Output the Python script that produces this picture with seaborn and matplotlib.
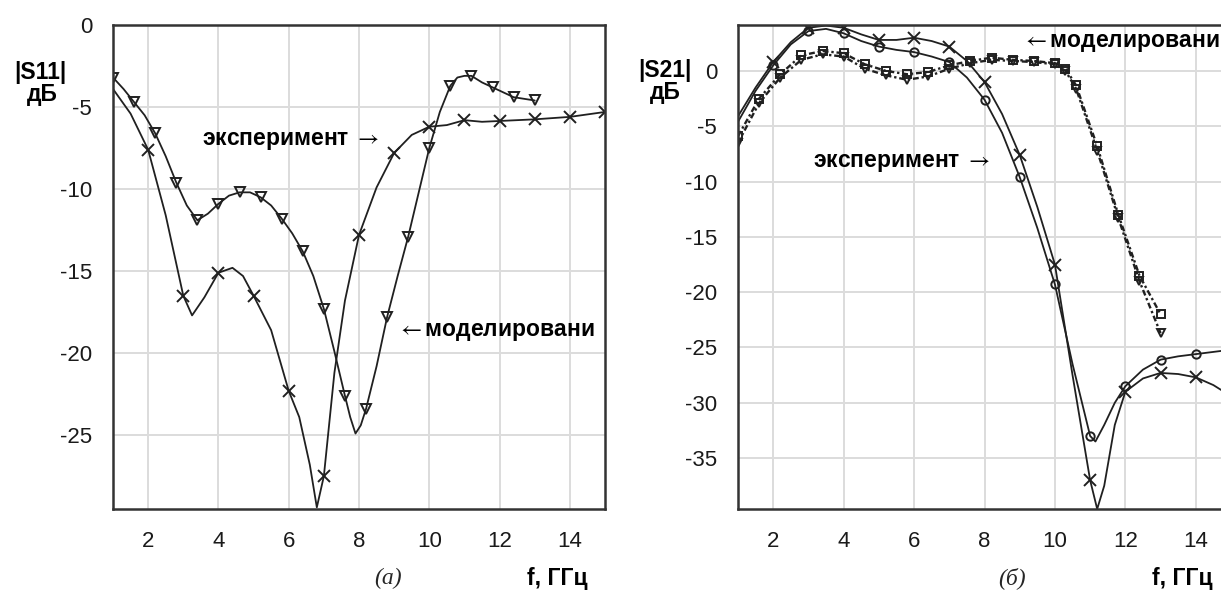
import matplotlib
matplotlib.use('Agg')
import matplotlib.pyplot as plt
import seaborn as sns

# ---------------- (а) |S11| ----------------
# simulation curve (triangles)
s11_sim_f = [1.0, 1.3, 1.6, 1.9, 2.2, 2.5, 2.8, 3.1, 3.4, 3.7, 4.0, 4.3, 4.6, 4.9, 5.2, 5.5,
             5.8, 6.1, 6.4, 6.7, 7.0, 7.3, 7.6, 7.75, 7.9, 8.05, 8.2, 8.5, 8.8, 9.1, 9.4, 9.7,
             10.0, 10.3, 10.6, 10.8, 11.0, 11.2, 11.5, 11.8, 12.1, 12.4, 12.7, 13.0]
s11_sim_db = [-3.2, -3.9, -4.7, -5.5, -6.6, -8.0, -9.6, -11.0, -11.9, -11.5, -10.9, -10.4, -10.2, -10.2,
              -10.5, -11.0, -11.8, -12.7, -13.8, -15.3, -17.3, -19.9, -22.6, -23.9, -24.9, -24.4, -23.4,
              -20.8, -17.8, -15.3, -12.9, -10.2, -7.5, -5.3, -3.7, -3.2, -3.1, -3.1, -3.5, -3.8, -4.1,
              -4.4, -4.5, -4.6]
s11_sim_mark_f = [1.0, 1.6, 2.2, 2.8, 3.4, 4.0, 4.6, 5.2, 5.8, 6.4, 7.0, 7.6, 8.2, 8.8, 9.4, 10.0,
                  10.6, 11.2, 11.8, 12.4, 13.0]
s11_sim_mark_db = [-3.2, -4.7, -6.6, -9.6, -11.9, -10.9, -10.2, -10.5, -11.8, -13.8, -17.3, -22.6,
                   -23.4, -17.8, -12.9, -7.5, -3.7, -3.1, -3.8, -4.4, -4.6]

# experiment curve (crosses)
s11_exp_f = [1.0, 1.5, 2.0, 2.5, 3.0, 3.25, 3.6, 4.0, 4.4, 4.7, 5.0, 5.5, 6.0, 6.3, 6.6, 6.8, 7.0,
             7.3, 7.6, 8.0, 8.5, 9.0, 9.5, 10.0, 10.5, 11.0, 11.5, 12.0, 13.0, 14.0, 15.0]
s11_exp_db = [-3.9, -5.4, -7.6, -11.6, -16.5, -17.7, -16.6, -15.1, -14.8, -15.3, -16.5, -18.6, -22.3,
              -23.9, -26.8, -29.4, -27.5, -21.2, -16.8, -12.8, -9.9, -7.8, -6.7, -6.2, -6.1, -5.8,
              -5.9, -5.85, -5.75, -5.6, -5.3]
s11_exp_mark_f = [2, 3, 4, 5, 6, 7, 8, 9, 10, 11, 12, 13, 14, 15]
s11_exp_mark_db = [-7.6, -16.5, -15.1, -16.5, -22.3, -27.5, -12.8, -7.8, -6.2, -5.8, -5.85, -5.75, -5.6, -5.3]

# ---------------- (б) |S21| ----------------
s21_expx_f = [1.0, 1.5, 2.0, 2.5, 3.0, 3.5, 4.0, 4.5, 5.0, 5.5, 6.0, 6.5, 7.0, 7.5, 8.0, 8.5, 9.0,
              9.5, 10.0, 10.5, 11.0, 11.2, 11.4, 11.7, 12.0, 12.5, 13.0, 13.5, 14.0, 14.5, 15.0]
s21_expx_db = [-4.1, -1.5, 0.8, 2.6, 3.9, 4.1, 3.9, 3.3, 2.8, 2.8, 3.0, 2.7, 2.2, 0.9, -1.0, -3.9,
               -7.6, -12.3, -17.5, -27.5, -37.0, -39.6, -37.5, -32.0, -29.0, -27.8, -27.3, -27.4,
               -27.7, -28.4, -29.4]
s21_expx_mark_f = [2, 3, 4, 5, 6, 7, 8, 9, 10, 11, 12, 13, 14, 15]
s21_expx_mark_db = [0.8, 3.9, 3.9, 2.8, 3.0, 2.2, -1.0, -7.6, -17.5, -37.0, -29.0, -27.3, -27.7, -29.4]

s21_expo_f = [1.0, 1.5, 2.0, 2.5, 3.0, 3.5, 4.0, 4.5, 5.0, 5.5, 6.0, 6.5, 7.0, 7.5, 8.0, 8.5, 9.0,
              9.5, 10.0, 10.5, 11.0, 11.15, 11.4, 11.7, 12.0, 12.5, 13.0, 13.5, 14.0, 14.5, 15.0]
s21_expo_db = [-4.6, -1.8, 0.5, 2.4, 3.6, 3.8, 3.4, 2.7, 2.2, 1.9, 1.7, 1.3, 0.8, -0.6, -2.6, -5.6,
               -9.6, -14.2, -19.3, -26.5, -33.0, -33.5, -32.0, -30.0, -28.5, -27.0, -26.1, -25.8,
               -25.6, -25.4, -25.2]
s21_expo_mark_f = [2, 3, 4, 5, 6, 7, 8, 9, 10, 11, 12, 13, 14, 15]
s21_expo_mark_db = [0.5, 3.6, 3.4, 2.2, 1.7, 0.8, -2.6, -9.6, -19.3, -33.0, -28.5, -26.1, -25.6, -25.2]

s21_sim_f = [1.0, 1.6, 2.2, 2.8, 3.4, 4.0, 4.6, 5.2, 5.8, 6.4, 7.0, 7.6, 8.2, 8.8, 9.4, 10.0, 10.3,
             10.6, 11.2, 11.8, 12.4, 13.0]
s21_sim_sq_db = [-5.9, -2.5, -0.3, 1.4, 1.8, 1.6, 0.6, 0.0, -0.3, -0.1, 0.5, 0.9, 1.2, 1.0, 0.9, 0.7,
                 0.2, -1.3, -6.8, -13.0, -18.5, -22.0]
s21_sim_tr_db = [-6.5, -2.9, -0.6, 1.0, 1.5, 1.3, 0.2, -0.4, -0.8, -0.5, 0.2, 0.7, 1.0, 0.9, 0.8, 0.6,
                 0.0, -1.6, -7.2, -13.3, -19.0, -23.7]

x_ticks = [2, 4, 6, 8, 10, 12, 14]
s11_yticks = [0, -5, -10, -15, -20, -25]
s21_yticks = [0, -5, -10, -15, -20, -25, -30, -35]

sns.set_style('whitegrid')
plt.rcParams['font.family'] = ['Liberation Sans', 'DejaVu Sans']
plt.rcParams['axes.unicode_minus'] = False
plt.rcParams['mathtext.fontset'] = 'stix'

W, H = 1221, 591
fig = plt.figure(figsize=(W / 100, H / 100), dpi=100)
ax1 = fig.add_axes([113 / W, 1 - 509 / H, 492 / W, 484 / H])
ax2 = fig.add_axes([738 / W, 1 - 509 / H, 493 / W, 484 / H])

LC = '#202020'
line_kw = dict(color=LC, linewidth=1.3, estimator=None, sort=False, legend=False)


def marks(ax, f, db, m, size):
    sns.lineplot(x=f, y=db, ax=ax, linestyle='none', marker=m, markersize=size,
                 markerfacecolor='none' if m != 'x' else LC, markeredgecolor=LC,
                 markeredgewidth=1.4, color=LC, legend=False)


# (а)
sns.lineplot(x=s11_sim_f, y=s11_sim_db, ax=ax1, **line_kw)
marks(ax1, s11_sim_mark_f, s11_sim_mark_db, 'v', 7)
sns.lineplot(x=s11_exp_f, y=s11_exp_db, ax=ax1, **line_kw)
marks(ax1, s11_exp_mark_f, s11_exp_mark_db, 'x', 8)

# (б)
dash_kw = dict(line_kw)
dash_kw.update(linewidth=1.7, dashes=(2.5, 1.2, 1, 1.2))
sns.lineplot(x=s21_sim_f, y=s21_sim_tr_db, ax=ax2, **dash_kw)
marks(ax2, s21_sim_f, s21_sim_tr_db, 'v', 6)
sns.lineplot(x=s21_sim_f, y=s21_sim_sq_db, ax=ax2, **dash_kw)
marks(ax2, s21_sim_f, s21_sim_sq_db, 's', 6)
sns.lineplot(x=s21_expo_f, y=s21_expo_db, ax=ax2, **line_kw)
marks(ax2, s21_expo_mark_f, s21_expo_mark_db, 'o', 6)
sns.lineplot(x=s21_expx_f, y=s21_expx_db, ax=ax2, **line_kw)
marks(ax2, s21_expx_mark_f, s21_expx_mark_db, 'x', 8)

for ax, yt, ylim in [(ax1, s11_yticks, (-29.5, 0)), (ax2, s21_yticks, (-39.6, 4.15))]:
    ax.set_xlim(1, 15)
    ax.set_ylim(*ylim)
    ax.set_xticks(x_ticks)
    ax.set_yticks(yt)
    ax.set_xticklabels([str(t) for t in x_ticks])
    ax.set_yticklabels([str(t) for t in yt])
    ax.set_xlabel('')
    ax.set_ylabel('')
    ax.grid(True, color='#dcdcdc', linewidth=1.4)
    for sp in ax.spines.values():
        sp.set_visible(True)
        sp.set_color('#333333')
        sp.set_linewidth(1.8)
    ax.tick_params(axis='both', direction='out', length=4, width=1.5, color='#333333',
                   labelsize=16, labelcolor='#1a1a1a')
    ax.tick_params(axis='x', pad=12)
    ax.tick_params(axis='y', pad=11)
    ax.set_facecolor('white')


def ftext(x, y, s, **kw):
    fig.text(x / W, 1 - y / H, s, **kw)


bold = dict(fontsize=16.5, fontweight='bold', color='black', va='center')
ftext(40, 72, '|S11|', ha='center', **bold)
ftext(42, 95, 'дБ', ha='center', **bold)
ftext(665, 70, '|S21|', ha='center', **bold)
ftext(665, 93, 'дБ', ha='center', **bold)

ftext(202, 140, r'эксперимент $\rightarrow$', ha='left', **bold)
ftext(397, 332, r'$\leftarrow$моделировани', ha='left', **bold)
ftext(813, 163, r'эксперимент $\rightarrow$', ha='left', **bold)
ftext(1022, 43, r'$\leftarrow$моделировани', ha='left', **bold)

ftext(557, 578, 'f, ГГц', ha='center', **bold)
ftext(1182, 578, 'f, ГГц', ha='center', **bold)
ital = dict(fontsize=17, style='italic', family='Liberation Serif', va='center', ha='center')
ftext(388, 578, '(а)', **ital)
ftext(1012, 578, '(б)', **ital)

fig.savefig('out.png', dpi=100, facecolor='white')
